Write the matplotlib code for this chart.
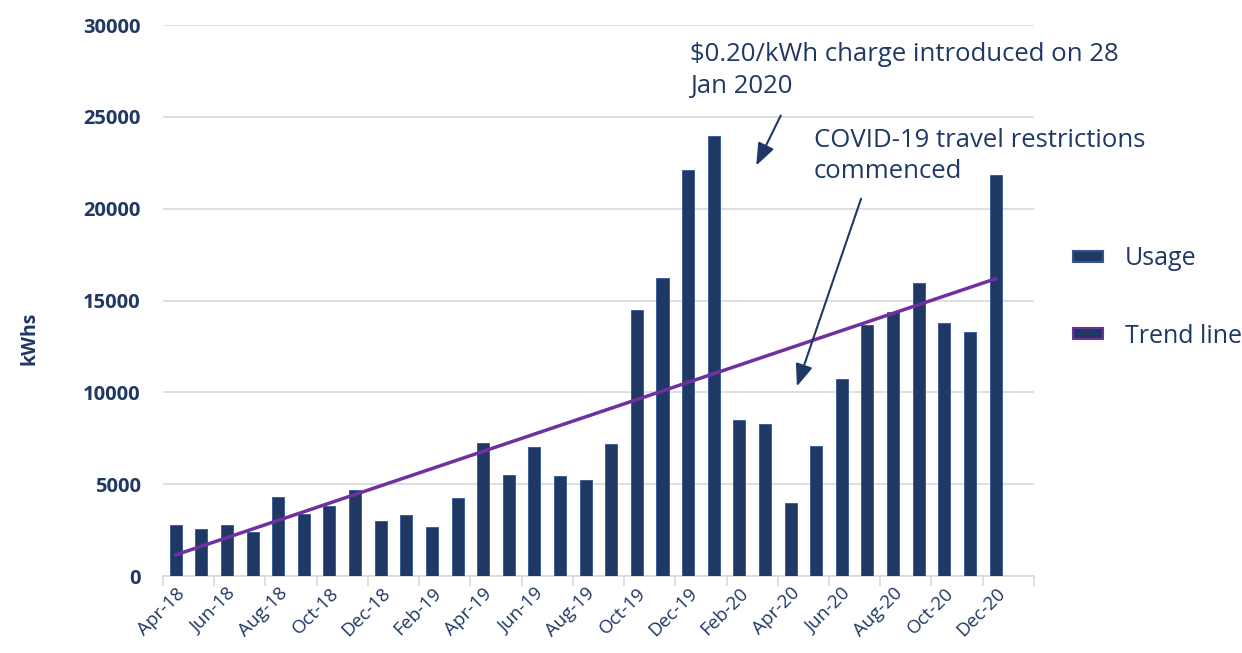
import matplotlib
matplotlib.use("Agg")
import matplotlib.pyplot as plt
import numpy as np
from matplotlib.patches import Patch, FancyArrowPatch

months = ["Apr-18", "May-18", "Jun-18", "Jul-18", "Aug-18", "Sep-18", "Oct-18", "Nov-18",
          "Dec-18", "Jan-19", "Feb-19", "Mar-19", "Apr-19", "May-19", "Jun-19", "Jul-19",
          "Aug-19", "Sep-19", "Oct-19", "Nov-19", "Dec-19", "Jan-20", "Feb-20", "Mar-20",
          "Apr-20", "May-20", "Jun-20", "Jul-20", "Aug-20", "Sep-20", "Oct-20", "Nov-20",
          "Dec-20"]
usage = [2800, 2550, 2800, 2400, 4300, 3400, 3800, 4700,
         3000, 3300, 2650, 4250, 7250, 5500, 7050, 5450,
         5250, 7200, 14500, 16250, 22100, 23950, 8500, 8300,
         4000, 7100, 10750, 13650, 14400, 15950, 13750, 13300,
         21850]
yticks = [0, 5000, 10000, 15000, 20000, 25000, 30000]

navy = "#1F3864"
purple = "#7030A0"
text_c = "#1F3864"

plt.rcParams['font.family'] = ['Open Sans', 'DejaVu Sans']

W, H = 1242, 653
fig = plt.figure(figsize=(W / 100, H / 100), dpi=100)
ax = fig.add_axes([0.1312, 0.1179, 0.7013, 0.8438])

x = np.arange(len(months))
ax.bar(x, usage, width=0.47, color=navy, edgecolor="#2F5597", linewidth=0.6, zorder=3)

coef = np.polyfit(x, usage, 1)
trend = np.polyval(coef, x)
ax.plot(x, trend, color=purple, linewidth=2.5, zorder=4)

ax.set_xlim(-0.5, len(months) + 0.5)
ax.set_ylim(0, 30000)
ax.set_yticks(yticks)
ax.set_yticklabels([str(v) for v in yticks], fontsize=14.5, fontweight='bold', color=text_c)
ax.tick_params(axis='y', length=0, pad=16)
ax.yaxis.grid(True, color="#D9D9D9", linewidth=1.2, zorder=0)
ax.set_axisbelow(True)

ax.set_xticks(x[::2])
ax.set_xticklabels(months[::2], rotation=45, ha='right', rotation_mode='anchor',
                   fontsize=13.5, color=text_c)
ax.tick_params(axis='x', length=0, pad=6)
ax.set_xticks(np.arange(-0.5, len(months) + 1, 2), minor=True)
ax.tick_params(axis='x', which='minor', length=7, color="#D9D9D9", width=1.2)

for s in ['top', 'right', 'left']:
    ax.spines[s].set_visible(False)
ax.spines['bottom'].set_color("#D9D9D9")
ax.spines['bottom'].set_linewidth(1.2)

fig.text(30 / W, 1 - 338 / H, "kWhs", rotation=90, fontsize=14, fontweight='bold',
         color=text_c, ha='center', va='center')

fig.text(690 / W, 1 - 42 / H, "$0.20/kWh charge introduced on 28\nJan 2020",
         fontsize=18.5, color=text_c, ha='left', va='top', linespacing=1.38)
fig.text(814 / W, 1 - 128 / H, "COVID-19 travel restrictions\ncommenced",
         fontsize=18.5, color=text_c, ha='left', va='top', linespacing=1.32)


def fig_arrow(x0, y0, x1, y1):
    fig.add_artist(FancyArrowPatch(
        (x0 / W, 1 - y0 / H), (x1 / W, 1 - y1 / H),
        transform=fig.transFigure, arrowstyle='-|>,head_length=9,head_width=3.5',
        color=navy, linewidth=1.5, mutation_scale=1.5))


fig_arrow(782, 113, 755, 168)
fig_arrow(862, 196, 796, 389)

handles = [Patch(facecolor=navy, edgecolor="#2F5597", linewidth=1.5),
           Patch(facecolor=navy, edgecolor=purple, linewidth=1.5)]
fig.legend(handles, ["Usage", "Trend line"], loc='upper left',
           bbox_to_anchor=(1050 / W, 1 - 224 / H), frameon=False,
           fontsize=18, labelcolor=text_c, handlelength=1.2, handleheight=0.3,
           labelspacing=2.1, handletextpad=0.9)

fig.savefig("out.png", dpi=100)
